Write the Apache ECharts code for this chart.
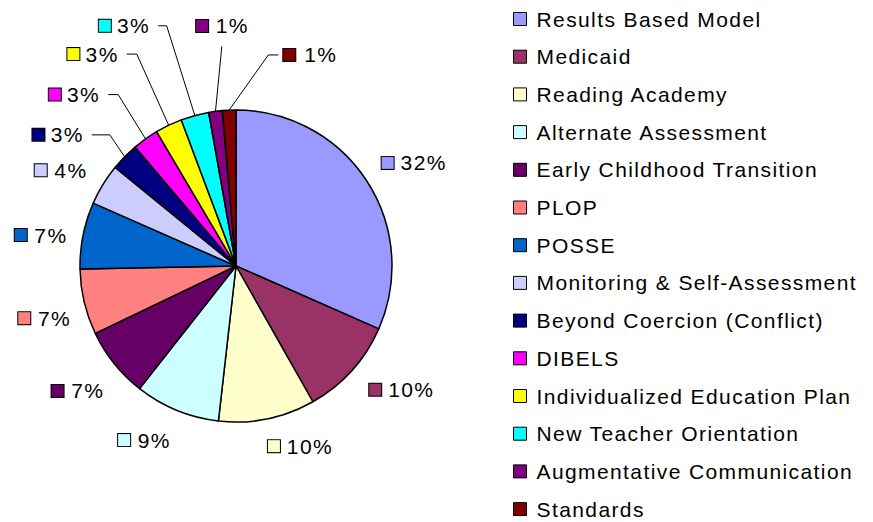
<!DOCTYPE html>
<html><head><meta charset="utf-8">
<script src="https://cdn.jsdelivr.net/npm/echarts@6/dist/echarts.min.js"></script>
<style>html,body{margin:0;padding:0;background:#fff}#c{width:873px;height:522px}#c text{letter-spacing:1.4px}</style>
</head><body><div id="c"></div>
<script>
const categories = ['Results Based Model','Medicaid','Reading Academy','Alternate Assessment','Early Childhood Transition','PLOP','POSSE','Monitoring & Self-Assessment','Beyond Coercion (Conflict)','DIBELS','Individualized Education Plan','New Teacher Orientation','Augmentative Communication','Standards'];
const values = [31.6, 10.2, 10.0, 8.8, 7.3, 6.8, 6.9, 4.3, 2.9, 2.7, 2.8, 2.9, 1.4, 1.4];
const colors = ['#9999FF','#993366','#FFFFCC','#CCFFFF','#660066','#FF8080','#0066CC','#CCCCFF','#000080','#FF00FF','#FFFF00','#00FFFF','#800080','#800000'];

// label placement style (polar: angle clockwise from top in degrees, distance from pie centre)
// 'c' = label centred there (no leader); 'l'/'r' = leader elbow there, label to left/right; 'u' = label above leader end
const labelPlace = [
  [59.8, 205, 'c'], [126.9, 206, 'c'], [160.6, 191, 'c'], [207.9, 197, 'c'],
  [231.8, 202, 'c'], [254.8, 199, 'c'], [279.0, 198, 'c'], [298.6, 200, 'c'],
  [316.1, 182, 'l', 18], [325.5, 208, 'l', 10], [334.9, 234, 'l', 10], [343.9, 250, 'l', 8.5],
  [356.3, 220, 'u'], [8.7, 213.5, 'r', 10]
];

const CX = 236, CY = 266, R = 156;
const FONT = '"Liberation Sans", Arial, sans-serif';
const rich = { t: { fontSize: 21, fontFamily: FONT, color: '#000', padding: [0,0,0,9] } };
colors.forEach((c, i) => {
  rich['s' + i] = { width: 12, height: 12, backgroundColor: c, borderColor: '#000', borderWidth: 1 };
});

const data = categories.map((name, i) => ({
  name, value: values[i],
  labelLine: { show: labelPlace[i][2] !== 'c' }
}));

function polar(deg, d) {
  const a = deg * Math.PI / 180;
  return [CX + d * Math.sin(a), CY - d * Math.cos(a)];
}

const chart = echarts.init(document.getElementById('c'), null, { renderer: 'svg' });
chart.setOption({
  animation: false,
  color: colors,
  legend: {
    orient: 'vertical', left: 513, top: 8.5, bottom: 0, padding: 0,
    itemWidth: 13, itemHeight: 13, itemGap: 16.7,
    icon: 'rect',
    itemStyle: { borderColor: '#000', borderWidth: 1 },
    textStyle: { fontSize: 21, lineHeight: 21, color: '#000', fontFamily: FONT, padding: [0,0,0,5] },
    selectedMode: false
  },
  series: [{
    type: 'pie',
    center: [CX, CY],
    radius: R,
    startAngle: 90,
    clockwise: true,
    avoidLabelOverlap: false,
    emphasis: { disabled: true },
    itemStyle: { borderColor: '#000', borderWidth: 1.5 },
    label: {
      show: true, position: 'outside',
      formatter: p => `{s${p.dataIndex}|}{t|${Math.round(p.percent)}%}`,
      rich
    },
    labelLine: { length: 10, length2: 10, lineStyle: { color: '#000', width: 1 } },
    labelLayout: function (p) {
      const pl = labelPlace[p.dataIndex];
      const [ex, ey] = polar(pl[0], pl[1]);
      if (pl[2] === 'c') return { x: ex, y: ey, align: 'center', verticalAlign: 'middle' };
      const start = p.labelLinePoints[0];
      if (pl[2] === 'u') {
        return { x: ex, y: ey - 10, align: 'center', verticalAlign: 'bottom',
                 labelLinePoints: [start, [ex, ey]] };
      }
      const sx = pl[2] === 'r' ? 1 : -1;
      const hx = ex + sx * pl[3];
      return { x: hx + sx * (sx > 0 ? 5 : 8), y: ey, align: sx > 0 ? 'left' : 'right', verticalAlign: 'middle',
               labelLinePoints: [start, [ex, ey], [hx, ey]] };
    },
    data
  }]
});
</script></body></html>
